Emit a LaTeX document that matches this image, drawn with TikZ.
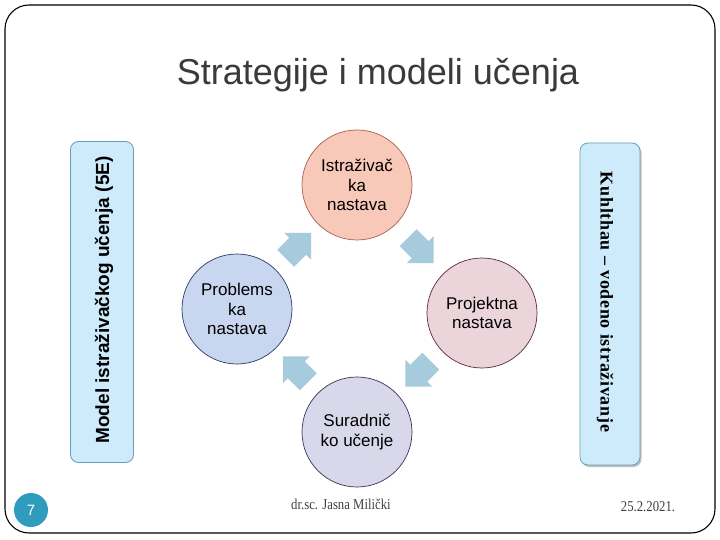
\documentclass[tikz,border=0pt]{standalone}
\usepackage{fontspec}
\setmainfont{Liberation Sans}
\newfontfamily\serifk[LetterSpace=4]{Liberation Serif}
\newfontfamily\seriff{Liberation Serif}
\usetikzlibrary{calc,shadows}
\definecolor{titlegray}{HTML}{3A3A3A}
\definecolor{boxfill}{HTML}{CDEBFA}
\definecolor{boxline}{HTML}{6A9DB8}
\definecolor{arrowfill}{HTML}{A6CBDC}
\definecolor{topfill}{HTML}{F8C8B8}
\definecolor{topline}{HTML}{A86050}
\definecolor{leftfill}{HTML}{C8D6F0}
\definecolor{leftline}{HTML}{2B3A66}
\definecolor{rightfill}{HTML}{ECD4DB}
\definecolor{rightline}{HTML}{5A2A3A}
\definecolor{botfill}{HTML}{D8D8EA}
\definecolor{botline}{HTML}{333355}
\definecolor{numfill}{HTML}{2F9BBD}
\definecolor{foot}{HTML}{404040}
\tikzset{
  sidebox/.style={draw=boxline, fill=boxfill, line width=0.8pt, rounded corners=8pt},
  cyc/.style={circle, minimum size=110pt, inner sep=0pt, align=center, line width=0.7pt,
    font=\fontsize{17}{19.5}\selectfont},
  blockarrow/.pic={\fill[arrowfill] (-16,-12) -- (1,-12) -- (1,-19) -- (20,0) -- (1,19) -- (1,12) -- (-16,12) -- cycle;},
  foottext/.style={text=foot, font=\seriff\fontsize{15}{17}\selectfont}
}
\begin{document}
\begin{tikzpicture}[x=1pt,y=-1pt]
\useasboundingbox (0,0) rectangle (720,540);
\fill[white] (0,0) rectangle (720,540);
\draw[line width=1.1pt, rounded corners=24pt] (5,5) rectangle (715,533);
\node[anchor=base, text=titlegray, font=\fontsize{36}{40}\selectfont] (title) at (378,85) {Strategije i modeli učenja};
% side boxes
\node[sidebox, minimum width=63pt, minimum height=321pt] (lbox) at (102,302) {};
\node[rotate=90, font=\bfseries\fontsize{19}{22}\selectfont] (ltext) at (104,300) {Model istraživačkog učenja (5E)};
\node[sidebox, drop shadow={shadow xshift=1.5pt, shadow yshift=-2pt, opacity=0.5}, minimum width=60pt, minimum height=322pt] (rbox) at (610,304) {};
\node[rotate=-90, font=\serifk\bfseries\fontsize{18}{21}\selectfont] (rtext) at (605,302) {Kuhlthau – vodeno istraživanje};
% circles
\node[cyc, draw=topline, fill=topfill] (istr) at (357,185) {Istraživač\\ka\\nastava};
\node[cyc, draw=leftline, fill=leftfill] (prob) at (237,309) {Problems\\ka\\nastava};
\node[cyc, draw=rightline, fill=rightfill] (proj) at (482,313) {Projektna\\nastava};
\node[cyc, draw=botline, fill=botfill] (sur) at (357,432) {Suradnič\\ko učenje};
% block arrows
\pic[rotate=45] at ($(prob)!0.5!(istr)$) {blockarrow};
\pic[rotate=-45] at ($(istr)!0.5!(proj)$) {blockarrow};
\pic[rotate=-135] at ($(proj)!0.5!(sur)$) {blockarrow};
\pic[rotate=135] at ($(sur)!0.5!(prob)$) {blockarrow};
% footer
\node[circle, fill=numfill, minimum size=34pt, inner sep=0pt, text=white, font=\fontsize{15}{17}\selectfont] (num) at (31,510) {7};
\node[foottext] (author) at (341,504) {\scalebox{0.85}[1]{dr.sc. Jasna Milički}};
\node[foottext] (date) at (648,507) {\scalebox{0.85}[1]{25.2.2021.}};
\end{tikzpicture}
\end{document}
